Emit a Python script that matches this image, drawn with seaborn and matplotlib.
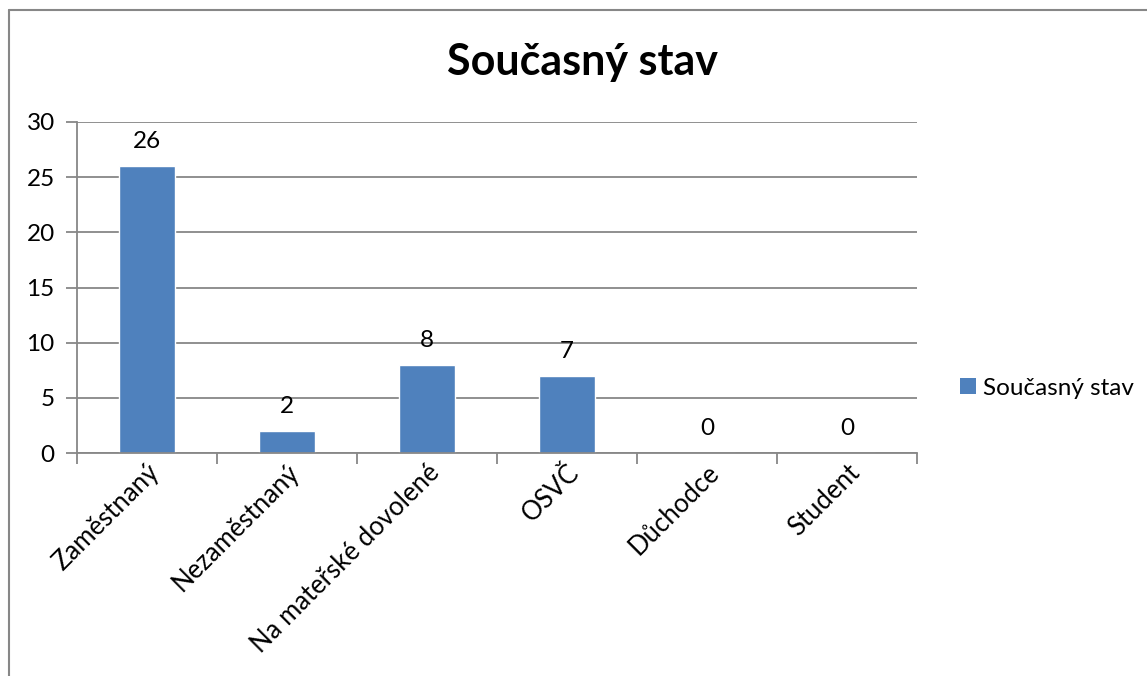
import numpy as np
import pandas as pd
import seaborn as sns
import matplotlib.pyplot as plt
from matplotlib.lines import Line2D
from matplotlib.patches import Patch

categories = ['Zaměstnaný', 'Nezaměstnaný', 'Na mateřské dovolené', 'OSVČ', 'Důchodce', 'Student']
values = [26, 2, 8, 7, 0, 0]
series_name = 'Současný stav'
title = 'Současný stav'
yticks = [0, 5, 10, 15, 20, 25, 30]

bar_color = '#4F81BD'
grid_color = '#878787'
fs = 17.5

sns.set_style('white')
plt.rcParams['font.family'] = ['Lato', 'DejaVu Sans']
plt.rcParams['text.color'] = 'black'
plt.rcParams['xtick.labelcolor'] = 'black'
plt.rcParams['ytick.labelcolor'] = 'black'

W, H = 1147, 676
fig = plt.figure(figsize=(W / 100, H / 100), dpi=100)
ax = fig.add_axes([77 / W, 1 - 453 / H, (917 - 77) / W, (453 - 122) / H])

df = pd.DataFrame({'cat': categories, 'val': values})
sns.barplot(data=df, x='cat', y='val', color=bar_color, width=0.4, saturation=1, ax=ax)

ax.set_xlim(-0.5, len(categories) - 0.5)
ax.set_ylim(0, 30)
ax.set_yticks(yticks)
ax.set_yticklabels([str(t) for t in yticks], fontsize=fs)
ax.yaxis.grid(True, color=grid_color, linewidth=1.3)
ax.set_axisbelow(True)
ax.set_xlabel('')
ax.set_ylabel('')

for s in ['top', 'right']:
    ax.spines[s].set_visible(False)
for s in ['left', 'bottom']:
    ax.spines[s].set_color(grid_color)
    ax.spines[s].set_linewidth(1.3)

ax.tick_params(axis='y', length=8, width=1.3, color=grid_color, pad=8, left=True)
ax.set_xticks(range(len(categories)))
ax.set_xticklabels(categories, rotation=45, ha='right', rotation_mode='anchor', fontsize=18.5)
ax.tick_params(axis='x', which='major', length=0, pad=5)
ax.set_xticks(np.arange(-0.5, len(categories)), minor=True)
ax.tick_params(axis='x', which='minor', length=8, width=1.3, color=grid_color, bottom=True)

for i, v in enumerate(values):
    ax.annotate(str(v), (i, v), xytext=(0, 10), textcoords='offset points',
                ha='center', va='bottom', fontsize=fs)

fig.text(583 / W, 1 - 62 / H, title, ha='center', va='center', fontsize=31, fontweight='bold')

handles = [Patch(facecolor=bar_color, edgecolor='none')]
fig.legend(handles, [series_name], loc='center left', bbox_to_anchor=(938 / W, 1 - 388 / H),
           frameon=False, fontsize=fs, handlelength=0.65, handleheight=0.65, handletextpad=0.3)

# chart border (only left and top visible in crop)
fig.add_artist(Line2D([8.5 / W, 8.5 / W], [0, 1 - 10 / H], color=grid_color, linewidth=1.5))
fig.add_artist(Line2D([8.5 / W, 1], [1 - 10 / H, 1 - 10 / H], color=grid_color, linewidth=1.5))

fig.savefig('out.png', dpi=100)
